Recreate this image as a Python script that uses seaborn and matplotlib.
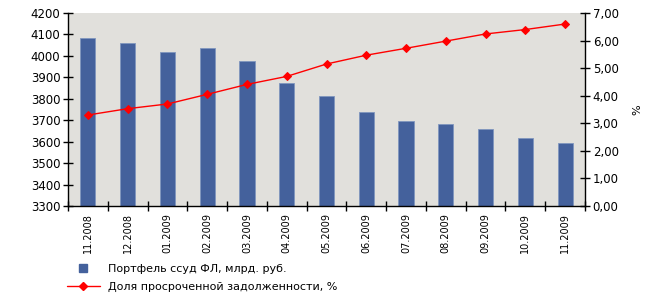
import numpy as np
import pandas as pd
import matplotlib
matplotlib.use("Agg")
import matplotlib.pyplot as plt
import seaborn as sns
from matplotlib.ticker import FuncFormatter, FixedLocator, MultipleLocator
from matplotlib.lines import Line2D

months = ["11.2008", "12.2008", "01.2009", "02.2009", "03.2009", "04.2009", "05.2009",
          "06.2009", "07.2009", "08.2009", "09.2009", "10.2009", "11.2009"]
portfolio = [4085, 4059, 4020, 4035, 3975, 3872, 3813, 3740, 3696, 3683, 3660, 3618, 3594]
overdue_share = [3.30, 3.53, 3.70, 4.05, 4.41, 4.70, 5.15, 5.47, 5.72, 5.98, 6.24, 6.40, 6.60]
bar_label = "Портфель ссуд ФЛ, млрд. руб."
line_label = "Доля просроченной задолженности, %"

sns.set_theme(style="white")
plt.rcParams["font.family"] = ["DejaVu Sans"]
plt.rcParams["text.color"] = "black"
plt.rcParams["axes.labelcolor"] = "black"
plt.rcParams["xtick.color"] = "black"
plt.rcParams["ytick.color"] = "black"

df = pd.DataFrame({"month": months, "portfolio": portfolio, "share": overdue_share})

fig = plt.figure(figsize=(6.63, 2.99), dpi=100)
ax = fig.add_axes([68/663, 1-206/299, (585-68)/663, (206-13)/299])
ax.set_facecolor("#E1E0DC")

bar_color = "#44619C"
sns.barplot(data=df, x="month", y="portfolio", ax=ax, color=bar_color, width=0.38,
            saturation=1, edgecolor="#8096BE", linewidth=0.6)
ax.set_ylim(3300, 4200)
ax.set_xlim(-0.5, len(months) - 0.5)
ax.yaxis.set_major_locator(MultipleLocator(100))
ax.set_xlabel("")
ax.set_ylabel("")

ax2 = ax.twinx()
sns.lineplot(x=np.arange(len(months)), y=df["share"], ax=ax2, color="#FF0000",
             marker="D", markersize=4.5, markeredgecolor="#FF0000", linewidth=1.0)
ax2.set_ylim(0, 7)
ax2.yaxis.set_major_locator(MultipleLocator(1))
ax2.yaxis.set_major_formatter(FuncFormatter(lambda v, p: f"{v:.2f}".replace(".", ",")))
ax2.set_ylabel("%", fontsize=8, labelpad=10, color="black")
ax2.set_xlim(-0.5, len(months) - 0.5)

for a in (ax, ax2):
    for s in a.spines.values():
        s.set_visible(False)
ax.spines["left"].set_visible(True)
ax.spines["left"].set_color("black")
ax.spines["left"].set_linewidth(1.0)
ax.spines["bottom"].set_visible(True)
ax.spines["bottom"].set_color("black")
ax.spines["bottom"].set_linewidth(1.0)
ax2.spines["right"].set_visible(True)
ax2.spines["right"].set_color("black")
ax2.spines["right"].set_linewidth(1.0)

ax.tick_params(axis="y", direction="inout", length=7, width=1, colors="black",
               labelsize=8.5, left=True, pad=2)
ax2.tick_params(axis="y", direction="inout", length=7, width=1, colors="black",
                labelsize=8.5, right=True, pad=2)

ax.set_xticks(np.arange(len(months)))
ax.set_xticklabels(months, rotation=90, fontsize=7)
ax.tick_params(axis="x", which="major", length=0, pad=5, colors="black")
ax.xaxis.set_minor_locator(FixedLocator(np.arange(-0.5, len(months), 1.0)))
ax.tick_params(axis="x", which="minor", direction="inout", length=7, width=1,
               colors="black", bottom=True)
ax2.tick_params(axis="x", bottom=False, labelbottom=False)

handles = [
    Line2D([0], [0], marker="s", color="none", markerfacecolor=bar_color,
           markeredgecolor=bar_color, markersize=5.5),
    Line2D([0], [0], color="#FF0000", marker="D", markersize=4, linewidth=1.0),
]
leg = fig.legend(handles, [bar_label, line_label], loc="lower left",
                 bbox_to_anchor=(60/663, 0.0), frameon=False, fontsize=8,
                 handlelength=3.0, handletextpad=0.7, labelspacing=0.75,
                 borderaxespad=0.2)
for t in leg.get_texts():
    t.set_color("black")

fig.savefig("out.png", dpi=100)
